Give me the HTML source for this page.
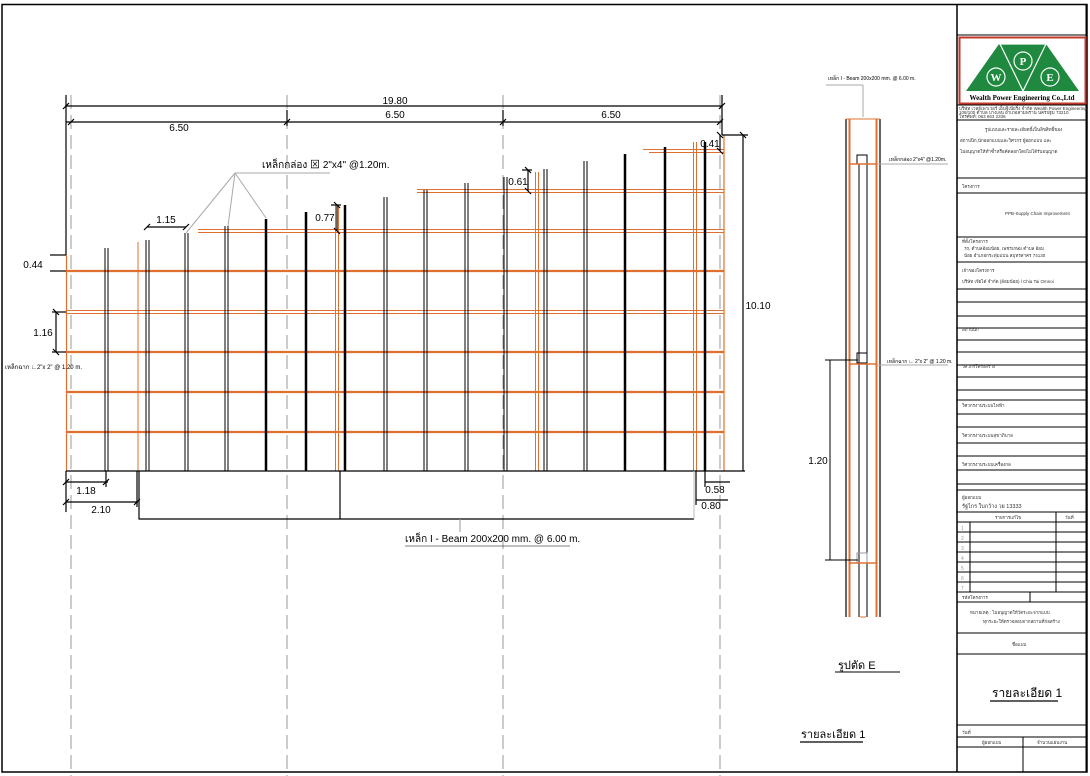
<!DOCTYPE html>
<html><head><meta charset="utf-8"><style>
html,body{margin:0;padding:0;background:#fff;}
svg{display:block;font-family:"Liberation Sans","Noto Sans CJK SC",sans-serif;}
</style></head><body>
<svg width="1090" height="776" viewBox="0 0 1090 776" xmlns="http://www.w3.org/2000/svg">
<rect x="0" y="0" width="1090" height="776" fill="#fff"/>
<!-- border -->
<rect x="2" y="4.5" width="1085" height="767.5" fill="none" stroke="#000" stroke-width="1.5"/>
<line x1="957" y1="4" x2="957" y2="772" stroke="#000" stroke-width="1.5"/>

<!-- grey dashed gridlines -->
<g stroke="#999" stroke-width="1" stroke-dasharray="14,6">
<line x1="71" y1="95" x2="71" y2="776"/>
<line x1="287" y1="95" x2="287" y2="776"/>
<line x1="503" y1="95" x2="503" y2="776"/>
<line x1="720" y1="95" x2="720" y2="776"/>
</g>

<!-- horizontal orange bars -->
<g stroke="#e07030" fill="none">
<line x1="643" y1="149.5" x2="724" y2="149.5" stroke-width="1"/><line x1="649" y1="152.5" x2="724" y2="152.5" stroke-width="1"/>
<line x1="417" y1="189.5" x2="724" y2="189.5" stroke-width="1"/><line x1="417" y1="192.5" x2="724" y2="192.5" stroke-width="1"/>
<line x1="198" y1="229.5" x2="724" y2="229.5" stroke-width="1"/><line x1="198" y1="232.5" x2="724" y2="232.5" stroke-width="1"/>
<line x1="66" y1="271" x2="724" y2="271" stroke-width="2.2"/>
<line x1="66" y1="310.5" x2="724" y2="310.5" stroke-width="1"/><line x1="66" y1="313.5" x2="724" y2="313.5" stroke-width="1"/>
<line x1="66" y1="352" x2="724" y2="352" stroke-width="2.2"/>
<line x1="66" y1="392" x2="724" y2="392" stroke-width="2.2"/>
<line x1="66" y1="432" x2="724" y2="432" stroke-width="2.2"/>
<!-- orange verticals -->
<line x1="66.5" y1="255" x2="66.5" y2="471" stroke-width="1.2"/>
<line x1="724" y1="135" x2="724" y2="471" stroke-width="1.2"/>
<line x1="138" y1="242" x2="138" y2="471" stroke-width="1"/>
<line x1="335.5" y1="205" x2="335.5" y2="471" stroke-width="1"/><line x1="338.5" y1="205" x2="338.5" y2="471" stroke-width="1"/>
<line x1="535.5" y1="172" x2="535.5" y2="471" stroke-width="1"/><line x1="538.5" y1="172" x2="538.5" y2="471" stroke-width="1"/>
<line x1="693.5" y1="142" x2="693.5" y2="471" stroke-width="1"/><line x1="696.5" y1="142" x2="696.5" y2="471" stroke-width="1"/>
</g>

<!-- black posts -->
<g stroke="#000" stroke-width="1">
<line x1="105" y1="248" x2="105" y2="471"/><line x1="108" y1="248" x2="108" y2="471"/>
<line x1="146" y1="240" x2="146" y2="471"/><line x1="149" y1="240" x2="149" y2="471"/>
<line x1="185" y1="233" x2="185" y2="471"/><line x1="188" y1="233" x2="188" y2="471"/>
<line x1="225" y1="226" x2="225" y2="471"/><line x1="228" y1="226" x2="228" y2="471"/>
<line x1="384" y1="197" x2="384" y2="471"/><line x1="387" y1="197" x2="387" y2="471"/>
<line x1="424" y1="190" x2="424" y2="471"/><line x1="427" y1="190" x2="427" y2="471"/>
<line x1="465" y1="183" x2="465" y2="471"/><line x1="468" y1="183" x2="468" y2="471"/>
<line x1="504" y1="177" x2="504" y2="471"/><line x1="507" y1="177" x2="507" y2="471"/>
<line x1="544" y1="169" x2="544" y2="471"/><line x1="547" y1="169" x2="547" y2="471"/>
<line x1="584" y1="161" x2="584" y2="471"/><line x1="587" y1="161" x2="587" y2="471"/>
</g>
<g stroke="#000" stroke-width="2.5">
<line x1="266" y1="219" x2="266" y2="471"/>
<line x1="306" y1="212" x2="306" y2="471"/>
<line x1="345" y1="205" x2="345" y2="471"/>
<line x1="625" y1="154" x2="625" y2="471"/>
<line x1="665" y1="147" x2="665" y2="471"/>
<line x1="705" y1="142" x2="705" y2="471"/>
</g>

<!-- ground & beam -->
<g stroke="#000" stroke-width="1.2" fill="none">
<line x1="66" y1="471" x2="745" y2="471"/>
<polyline points="139,471 139,519 694,519"/>
<line x1="340" y1="471" x2="340" y2="519"/>
</g>
<line x1="694" y1="471" x2="694" y2="519" stroke="#bbb"/>
<line x1="460" y1="519" x2="460" y2="532" stroke="#999"/>

<!-- dimensions -->
<g stroke="#000" stroke-width="1.2" fill="none">
<line x1="66" y1="106" x2="722" y2="106"/>
<line x1="66" y1="95" x2="66" y2="255"/>
<line x1="722" y1="95" x2="722" y2="135"/>
<line x1="66" y1="122" x2="722" y2="122"/>
<line x1="287" y1="110" x2="287" y2="126"/>
<line x1="503" y1="110" x2="503" y2="126"/>
<line x1="722" y1="135" x2="748" y2="135"/>
<line x1="743" y1="135" x2="743" y2="471"/>
<line x1="720" y1="135" x2="720" y2="151"/>
<line x1="528" y1="170" x2="528" y2="191"/><line x1="522" y1="170" x2="532" y2="170"/>
<line x1="337" y1="205" x2="337" y2="231"/><line x1="331" y1="205" x2="341" y2="205"/>
<line x1="147" y1="227" x2="186" y2="227"/>
<line x1="50" y1="255" x2="66" y2="255"/><line x1="50" y1="271" x2="66" y2="271"/>
<line x1="56" y1="312" x2="56" y2="352"/>
<line x1="52" y1="312" x2="66" y2="312"/><line x1="52" y1="352" x2="66" y2="352"/>
<line x1="66" y1="482" x2="108" y2="482"/><line x1="106" y1="471" x2="106" y2="487"/>
<line x1="66" y1="502" x2="138" y2="502"/><line x1="66" y1="471" x2="66" y2="512"/><line x1="137" y1="471" x2="137" y2="507"/>
<line x1="705" y1="482" x2="730" y2="482"/><line x1="705" y1="471" x2="705" y2="487"/>
<line x1="696" y1="500" x2="728" y2="500"/><line x1="696" y1="471" x2="696" y2="505"/>
</g>
<g stroke="#000" stroke-width="1.2">
<line x1="63" y1="109" x2="69" y2="103"/><line x1="719" y1="109" x2="725" y2="103"/>
<line x1="68" y1="125" x2="74" y2="119"/><line x1="284" y1="125" x2="290" y2="119"/><line x1="500" y1="125" x2="506" y2="119"/><line x1="717" y1="125" x2="723" y2="119"/>
<line x1="740" y1="132" x2="746" y2="138"/>
<line x1="144" y1="230" x2="150" y2="224"/><line x1="183" y1="230" x2="189" y2="224"/>
<line x1="525" y1="167" x2="531" y2="173"/><line x1="525" y1="188" x2="531" y2="194"/>
<line x1="334" y1="202" x2="340" y2="208"/><line x1="334" y1="228" x2="340" y2="234"/>
<line x1="53" y1="309" x2="59" y2="315"/><line x1="53" y1="349" x2="59" y2="355"/>
<line x1="63" y1="485" x2="69" y2="479"/><line x1="103" y1="485" x2="109" y2="479"/>
<line x1="63" y1="505" x2="69" y2="499"/><line x1="134" y1="505" x2="140" y2="499"/>
<line x1="717" y1="132" x2="723" y2="138"/><line x1="717" y1="148" x2="723" y2="154"/>
</g>

<!-- leader for box label -->
<g stroke="#aaa" stroke-width="1" fill="none">
<line x1="235" y1="173" x2="330" y2="173"/>
<line x1="235" y1="173" x2="186" y2="233"/>
<line x1="235" y1="173" x2="228" y2="226"/>
<line x1="235" y1="173" x2="266" y2="218"/>
</g>

<!-- dimension text -->
<g font-size="10" fill="#000" text-anchor="middle">
<text x="395" y="104">19.80</text>
<text x="179" y="131">6.50</text>
<text x="395" y="118">6.50</text>
<text x="611" y="118">6.50</text>
<text x="166" y="223">1.15</text>
<text x="325" y="221">0.77</text>
<text x="518" y="185">0.61</text>
<text x="710" y="147">0.41</text>
<text x="758" y="309">10.10</text>
<text x="33" y="268">0.44</text>
<text x="43" y="336">1.16</text>
<text x="86" y="494">1.18</text>
<text x="101" y="513">2.10</text>
<text x="715" y="493">0.58</text>
<text x="711" y="509">0.80</text>
<text x="818" y="464">1.20</text>
</g>
<text x="262" y="168" font-size="10">เหล็กกล่อง ⊠ 2"x4" @1.20m.</text>
<text x="5" y="369" font-size="6">เหล็กฉาก ∟2"x 2" @ 1.20 m.</text>
<text x="405" y="542" font-size="10">เหล็ก I - Beam 200x200 mm. @ 6.00 m.</text>
<line x1="405" y1="546" x2="570" y2="546" stroke="#000" stroke-width="0.6"/>

<!-- section E -->
<g fill="none">
<line x1="846" y1="119" x2="846" y2="617" stroke="#000" stroke-width="1.2"/>
<line x1="880" y1="119" x2="880" y2="617" stroke="#000" stroke-width="1.2"/>
<line x1="849.5" y1="119" x2="849.5" y2="617" stroke="#e07030" stroke-width="2"/>
<line x1="876.5" y1="119" x2="876.5" y2="617" stroke="#e07030" stroke-width="2"/>
<line x1="846" y1="119" x2="880" y2="119" stroke="#e07030" stroke-width="1"/>
<line x1="859" y1="164" x2="859" y2="617" stroke="#000" stroke-width="1"/>
<line x1="867" y1="164" x2="867" y2="617" stroke="#000" stroke-width="1"/>
<rect x="857" y="155" width="10" height="9" stroke="#000" stroke-width="1"/>
<line x1="850" y1="164" x2="877" y2="164" stroke="#e07030" stroke-width="1.5"/>
<rect x="857" y="353" width="10" height="10" stroke="#000" stroke-width="1"/>
<line x1="850" y1="364" x2="877" y2="364" stroke="#e07030" stroke-width="1.5"/>
<rect x="857" y="553" width="10" height="10" stroke="#999" stroke-width="1"/>
<line x1="850" y1="563" x2="877" y2="563" stroke="#e07030" stroke-width="1.5"/>
<line x1="860" y1="617" x2="866" y2="617" stroke="#e07030" stroke-width="1"/>
<line x1="877" y1="164" x2="948" y2="164" stroke="#aaa"/>
<line x1="877" y1="365" x2="948" y2="365" stroke="#aaa"/>
<line x1="826" y1="85" x2="863" y2="85" stroke="#aaa"/>
<line x1="863" y1="85" x2="863" y2="117" stroke="#aaa"/>
<line x1="825" y1="360" x2="858" y2="360" stroke="#000"/>
<line x1="830" y1="360" x2="830" y2="560" stroke="#000"/>
<line x1="825" y1="560" x2="858" y2="560" stroke="#000"/>
</g>
<text x="828" y="80" font-size="5">เหล็ก I - Beam 200x200 mm. @ 6.00 m.</text>
<text x="889" y="161" font-size="5">เหล็กกล่อง    2"x4" @1.20m.</text>
<text x="887" y="363" font-size="5">เหล็กฉาก ∟ 2"x 2" @ 1.20 m.</text>
<text x="838" y="669" font-size="11">รูปตัด E</text>
<line x1="835" y1="672" x2="900" y2="672" stroke="#000"/>
<text x="801" y="738" font-size="11">รายละเอียด 1</text>
<line x1="800" y1="742" x2="863" y2="742" stroke="#000" stroke-width="1.2"/>

<!-- title block -->
<g stroke="#000" stroke-width="1">
<line x1="1086" y1="4" x2="1086" y2="772"/>
<line x1="957" y1="35" x2="1086" y2="35"/>
<line x1="957" y1="105" x2="1086" y2="105"/>
<line x1="957" y1="120" x2="1086" y2="120"/>
<line x1="957" y1="178" x2="1086" y2="178"/>
<line x1="957" y1="193" x2="1086" y2="193"/>
<line x1="957" y1="237" x2="1086" y2="237"/>
<line x1="957" y1="262" x2="1086" y2="262"/>
<line x1="957" y1="289" x2="1086" y2="289"/>
<line x1="957" y1="302" x2="1086" y2="302"/>
<line x1="957" y1="316" x2="1086" y2="316"/>
<line x1="957" y1="328" x2="1086" y2="328"/>
<line x1="957" y1="340" x2="1086" y2="340"/>
<line x1="957" y1="352" x2="1086" y2="352"/>
<line x1="957" y1="365" x2="1086" y2="365"/>
<line x1="957" y1="377" x2="1086" y2="377"/>
<line x1="957" y1="390" x2="1086" y2="390"/>
<line x1="957" y1="400" x2="1086" y2="400"/>
<line x1="957" y1="414" x2="1086" y2="414"/>
<line x1="957" y1="427" x2="1086" y2="427"/>
<line x1="957" y1="443" x2="1086" y2="443"/>
<line x1="957" y1="456" x2="1086" y2="456"/>
<line x1="957" y1="470" x2="1086" y2="470"/>
<line x1="957" y1="484" x2="1086" y2="484"/>
<line x1="957" y1="490" x2="1086" y2="490"/>
<line x1="957" y1="512" x2="1086" y2="512"/>
<line x1="957" y1="522" x2="1086" y2="522"/>
<line x1="957" y1="532" x2="1086" y2="532"/>
<line x1="957" y1="542" x2="1086" y2="542"/>
<line x1="957" y1="552" x2="1086" y2="552"/>
<line x1="957" y1="562" x2="1086" y2="562"/>
<line x1="957" y1="572" x2="1086" y2="572"/>
<line x1="957" y1="582" x2="1086" y2="582"/>
<line x1="957" y1="592" x2="1086" y2="592"/>
<line x1="957" y1="602" x2="1086" y2="602"/>
<line x1="957" y1="633" x2="1086" y2="633"/>
<line x1="957" y1="654" x2="1086" y2="654"/>
<line x1="957" y1="725" x2="1086" y2="725"/>
<line x1="957" y1="737" x2="1086" y2="737"/>
<line x1="957" y1="747" x2="1086" y2="747"/>
<line x1="970" y1="522" x2="970" y2="592"/>
<line x1="1056" y1="512" x2="1056" y2="592"/>
<line x1="1030" y1="592" x2="1030" y2="602"/>
<line x1="1023" y1="737" x2="1023" y2="772"/>
</g>
<!-- logo -->
<rect x="959.5" y="37.5" width="126" height="66" fill="#fff" stroke="#c0392b" stroke-width="2"/>
<polygon points="966,91 999,44 1032,91" fill="#1f8a3f"/>
<polygon points="1012,91 1046,44 1079,91" fill="#1f8a3f"/>
<polygon points="1000,44 1046,44 1023,91" fill="#1f8a3f" stroke="#fff" stroke-width="1.2"/>
<circle cx="996" cy="77" r="9" fill="none" stroke="#fff" stroke-width="1.2"/>
<circle cx="1023" cy="61" r="9" fill="none" stroke="#fff" stroke-width="1.2"/>
<circle cx="1050" cy="77" r="9" fill="none" stroke="#fff" stroke-width="1.2"/>
<g font-family="Liberation Serif,serif" font-weight="bold" fill="#fff" text-anchor="middle" font-size="11">
<text x="996" y="81">W</text><text x="1023" y="65">P</text><text x="1050" y="81">E</text></g>
<text x="1022" y="100" font-family="Liberation Serif,serif" font-weight="bold" font-size="7" text-anchor="middle">Wealth Power Engineering Co.,Ltd</text>
<g font-size="4.5" fill="#333">
<text x="959" y="110">บริษัท เวลธ์เพาเวอร์ เอ็นจิเนียริ่ง จำกัด Wealth Power Engineering</text>
<text x="959" y="114">108/100 ตำบล บางเลน อำเภอสามพราน นครปฐม 73210</text>
<text x="959" y="118">โทรศัพท์: 063 663 2336</text>
<text x="985" y="131">รูปแบบและรายละเอียดนี้เป็นลิขสิทธิ์ของ</text>
<text x="960" y="142">สถาปนิก,นักออกแบบและวิศวกร ผู้ออกแบบ และ</text>
<text x="960" y="153">ไม่อนุญาตให้ทำซ้ำหรือคัดลอกโดยไม่ได้รับอนุญาต</text>
<text x="962" y="188">โครงการ</text>
<text x="1005" y="215">PPB-Supply Chain Improvement</text>
<text x="962" y="243">ที่ตั้งโครงการ</text>
<text x="964" y="250">70, ตำบลอ้อมน้อย, เพชรเกษม ตำบล อ้อม</text>
<text x="964" y="257">น้อย อำเภอกระทุ่มแบน สมุทรสาคร 74130</text>
<text x="962" y="272">เจ้าของโครงการ</text>
<text x="962" y="283">บริษัท เจียไต๋ จำกัด (อ้อมน้อย) l Chia Tai Omnoi</text>
<text x="962" y="331">สถาปนิก</text>
<text x="962" y="368">วิศวกรโครงสร้าง</text>
<text x="962" y="407">วิศวกรงานระบบไฟฟ้า</text>
<text x="962" y="437">วิศวกรงานระบบสุขาภิบาล</text>
<text x="962" y="466">วิศวกรงานระบบเครื่องกล</text>
<text x="962" y="499">ผู้ออกแบบ</text>
<text x="962" y="508" font-size="5.5">รัฐไกร ใบกว้าง วย 13333</text>
<text x="995" y="519">รายการแก้ไข</text>
<text x="1065" y="519">วันที่</text>
<text x="962" y="599">รหัสโครงการ</text>
<text x="970" y="614">หมายเหตุ :      ไม่อนุญาตให้วัดระยะจากแบบ</text>
<text x="983" y="623">ทุกระยะให้ตรวจสอบจากสถานที่ก่อสร้าง</text>
<text x="1012" y="646">ชื่อแบบ</text>
<text x="962" y="734">วันที่</text>
<text x="982" y="744">ผู้ออกแบบ</text>
<text x="1037" y="744">จำนวนแผ่นงาน</text>
</g>
<g font-size="5" fill="#999"><text x="961" y="530">1</text><text x="961" y="540">2</text><text x="961" y="550">3</text><text x="961" y="560">4</text><text x="961" y="570">5</text><text x="961" y="580">6</text><text x="961" y="590">7</text></g>
<text x="992" y="697" font-size="12">รายละเอียด 1</text>
<line x1="990" y1="701" x2="1058" y2="701" stroke="#000" stroke-width="1.2"/>
</svg>
</body></html>
